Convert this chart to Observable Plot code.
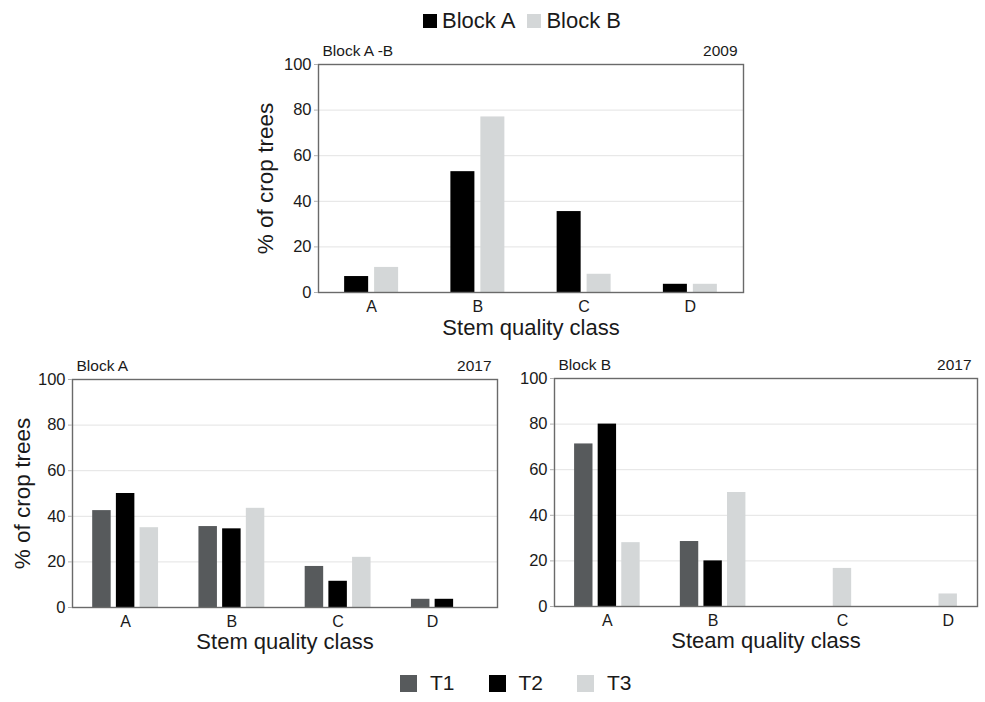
<!DOCTYPE html>
<html>
<head>
<meta charset="utf-8">
<script src="https://cdn.jsdelivr.net/npm/d3@7"></script>
<script src="https://cdn.jsdelivr.net/npm/@observablehq/plot@0.6"></script>
<style>
  html, body { margin: 0; padding: 0; background: #fff; }
  body { font-family: "Liberation Sans", Arial, Helvetica, sans-serif; color: #1a1a1a; }
  #page { position: relative; width: 985px; height: 702px; overflow: hidden; }
  .chart { position: absolute; }
  .legend { position: absolute; display: flex; align-items: center; font-size: 22px; }
  .legend .sw { display: inline-block; }
</style>
</head>
<body>
<div id="page">
  <div class="legend" id="legend2009" style="left:423px; top:8px;"></div>
  <div class="chart" id="top" style="left:230px; top:40px;"></div>
  <div class="chart" id="bl" style="left:0px; top:345px;"></div>
  <div class="chart" id="br" style="left:500px; top:345px;"></div>
  <div class="legend" id="legend2017" style="left:400px; top:671px; font-size:21px;"></div>
</div>
<script>
// Stem quality classes
const categories = ["A", "B", "C", "D"];

// 2009 survey, both blocks (% of crop trees)
const blocks = ["Block A", "Block B"];
const block2009A = [7, 53, 35.5, 3.6];
const block2009B = [11, 77, 8, 3.6];

// 2017 survey by treatment (% of crop trees)
const treatments = ["T1", "T2", "T3"];
const blockA_T1 = [42.5, 35.5, 18, 3.6];
const blockA_T2 = [50, 34.5, 11.5, 3.6];
const blockA_T3 = [35, 43.5, 22, 0];
const blockB_T1 = [71.3, 28.5, 0, 0];
const blockB_T2 = [80, 20, 0, 0];
const blockB_T3 = [28, 50, 16.7, 5.5];

const yTicks = [0, 20, 40, 60, 80, 100];

const blockColors = ["#000000", "#d4d7d8"];
const treatmentColors = ["#575a5c", "#000000", "#d4d7d8"];

const FONT = "'Liberation Sans', Arial, Helvetica, sans-serif";

function groupedBars(o) {
  const rows = [];
  o.series.forEach((s, j) =>
    categories.forEach((c, i) => rows.push({cat: c, i, j, series: s, value: o.values[j][i]}))
  );
  const mid = (o.series.length - 1) / 2;
  const offset = (j) => (j - mid) * o.barStep;
  // class label sits under the bars that are present in each group
  const labelPos = categories.map((c, i) => {
    const present = o.series.map((s, j) => j).filter((j) => o.values[j][i] > 0);
    return i + d3.mean(present, offset);
  });
  const labelOf = new Map(labelPos.map((p, i) => [p, categories[i]]));

  const marks = [
    Plot.gridY(yTicks.slice(1, -1), {stroke: "#e3e3e3", strokeOpacity: 1, strokeWidth: 1}),
    Plot.rect(rows.filter((d) => d.value > 0), {
      x1: (d) => d.i + offset(d.j) - o.barWidth / 2,
      x2: (d) => d.i + offset(d.j) + o.barWidth / 2,
      y1: 0,
      y2: "value",
      fill: "series"
    }),
    Plot.frame({stroke: "#6a6a6a", strokeWidth: 1.4}),
    Plot.axisY({ticks: yTicks, tickSize: 4, tickPadding: 3, stroke: "#b0b0b0", fontSize: 16.5, label: null}),
    Plot.axisX({ticks: labelPos, tickFormat: (d) => labelOf.get(d), tickSize: 0, tickPadding: 8, fontSize: 16, label: null}),
    Plot.text([o.titleLeft], {text: (d) => d, frameAnchor: "top-left", textAnchor: "start", lineAnchor: "middle", dx: 4, dy: -13, fontSize: 15.5}),
    Plot.text([o.titleRight], {text: (d) => d, frameAnchor: "top-right", textAnchor: "end", lineAnchor: "middle", dx: -6, dy: -13, fontSize: 15.5}),
    Plot.text([o.xTitle], {text: (d) => d, frameAnchor: "bottom", textAnchor: "middle", lineAnchor: "middle", dy: o.xTitleDy, fontSize: 22})
  ];
  if (o.yTitle) {
    marks.push(Plot.text([o.yTitle], {text: (d) => d, frameAnchor: "left", textAnchor: "middle", lineAnchor: "middle", rotate: -90, dx: o.yTitleDx, fontSize: 22.5}));
  }

  return Plot.plot({
    width: o.width,
    height: o.height,
    marginLeft: o.margins[0],
    marginRight: o.margins[1],
    marginTop: o.margins[2],
    marginBottom: o.margins[3],
    style: {fontFamily: FONT, color: "#1a1a1a", background: "transparent", overflow: "visible"},
    x: {type: "linear", domain: [-0.5, categories.length - 0.5]},
    y: {domain: [0, 100]},
    color: {domain: o.series, range: o.colors},
    marks
  });
}

document.getElementById("top").append(groupedBars({
  series: blocks,
  values: [block2009A, block2009B],
  colors: blockColors,
  barStep: 0.282,
  barWidth: 0.226,
  width: 530, height: 305,
  margins: [88, 17, 24, 53],
  titleLeft: "Block A -B", titleRight: "2009",
  xTitle: "Stem quality class", xTitleDy: 35.5,
  yTitle: "% of crop trees", yTitleDx: -53
}));

document.getElementById("bl").append(groupedBars({
  series: treatments,
  values: [blockA_T1, blockA_T2, blockA_T3],
  colors: treatmentColors,
  barStep: 0.223,
  barWidth: 0.174,
  width: 505, height: 320,
  margins: [72, 8, 34, 58],
  titleLeft: "Block A", titleRight: "2017",
  xTitle: "Stem quality class", xTitleDy: 34,
  yTitle: "% of crop trees", yTitleDx: -50
}));

document.getElementById("br").append(groupedBars({
  series: treatments,
  values: [blockB_T1, blockB_T2, blockB_T3],
  colors: treatmentColors,
  barStep: 0.223,
  barWidth: 0.174,
  width: 485, height: 320,
  margins: [54, 8, 33, 59],
  titleLeft: "Block B", titleRight: "2017",
  xTitle: "Steam quality class", xTitleDy: 34,
  yTitle: null
}));

function legend(el, names, colors, size, textGap, itemGap) {
  names.forEach((n, k) => {
    const sw = document.createElement("span");
    sw.className = "sw";
    sw.style.width = size + "px";
    sw.style.height = size + "px";
    sw.style.background = colors[k];
    sw.style.marginRight = textGap + "px";
    sw.style.marginLeft = k ? itemGap + "px" : "0";
    const t = document.createElement("span");
    t.textContent = n;
    el.append(sw, t);
  });
}
legend(document.getElementById("legend2009"), blocks, blockColors, 14, 5, 12);
legend(document.getElementById("legend2017"), treatments, treatmentColors, 17, 13, 34);
</script>
</body>
</html>
